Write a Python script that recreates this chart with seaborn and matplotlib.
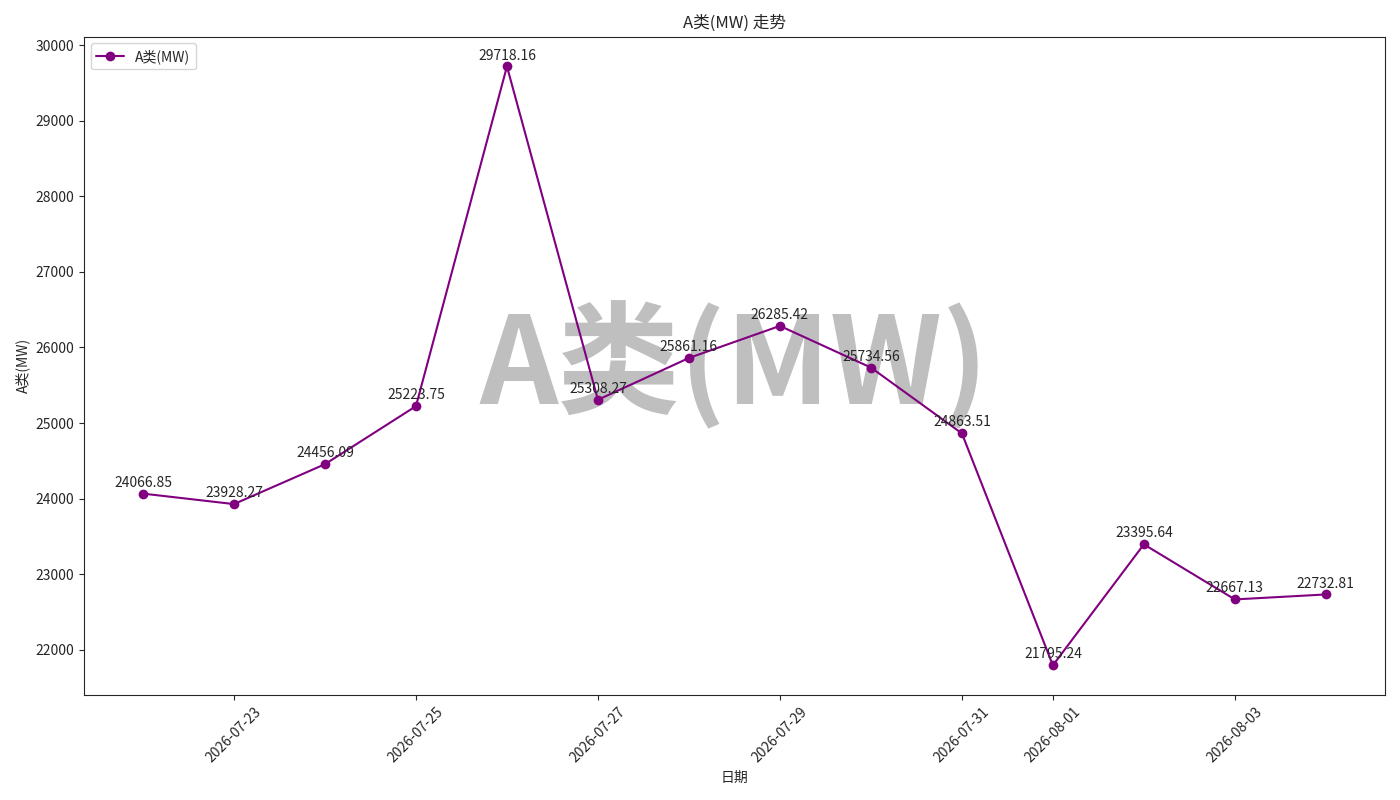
import numpy as np
import pandas as pd
import matplotlib
matplotlib.use('Agg')
import matplotlib.pyplot as plt
import matplotlib.dates as mdates
import seaborn as sns

sns.set_style('ticks')
plt.rcParams['font.family'] = ['Noto Sans CJK SC', 'DejaVu Sans']
plt.rcParams['axes.unicode_minus'] = False

# data
dates = pd.date_range('2026-07-22', '2026-08-04', freq='D')
values = [24066.85, 23928.27, 24456.09, 25223.75, 29718.16, 25308.27, 25861.16,
          26285.42, 25734.56, 24863.51, 21795.24, 23395.64, 22667.13, 22732.81]
series_name = 'A类(MW)'

df = pd.DataFrame({'日期': dates, series_name: values})

fig, ax = plt.subplots(figsize=(14, 8), dpi=100)
sns.lineplot(data=df, x='日期', y=series_name, marker='o', color='purple',
             markersize=7, markeredgewidth=0, label=series_name, ax=ax)

# value labels
for d, v in zip(df['日期'], df[series_name]):
    ax.annotate(f'{v:.2f}', (d, v), textcoords='offset points', xytext=(0, 5),
                ha='center', fontsize=10)

# watermark
ax.text(0.5, 0.5, series_name, transform=ax.transAxes, fontsize=88,
        color='gray', alpha=0.5, ha='center', va='center', zorder=0,
        fontweight='bold', fontstretch='condensed')

ax.xaxis.set_major_formatter(mdates.DateFormatter('%Y-%m-%d'))
plt.setp(ax.get_xticklabels(), rotation=45)
ax.set_title(f'{series_name} 走势')
ax.set_xlabel('日期')
ax.set_ylabel(series_name)
ax.legend(loc='upper left')
for s in ax.spines.values():
    s.set_visible(True)

plt.tight_layout()
plt.savefig('out.png')
